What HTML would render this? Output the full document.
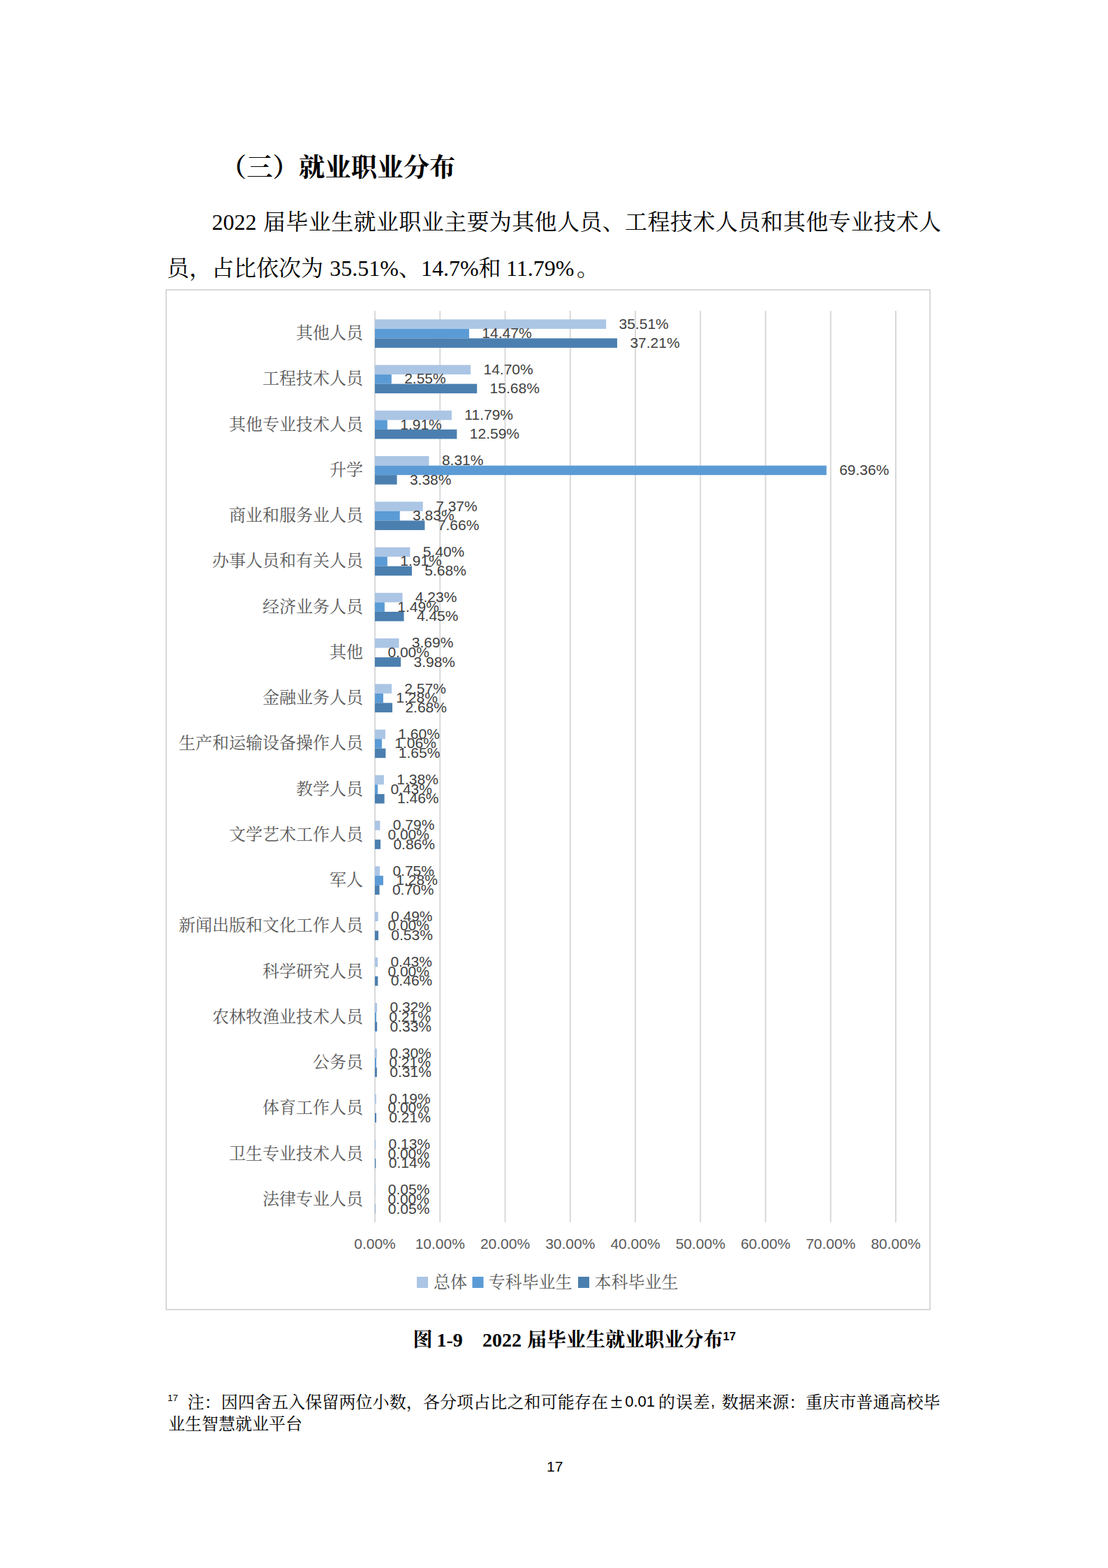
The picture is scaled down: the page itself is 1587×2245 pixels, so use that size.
<!DOCTYPE html>
<html lang="zh-CN">
<head>
<meta charset="utf-8">
<title>（三）就业职业分布</title>
<style>
html,body{margin:0;padding:0;background:#fff;}
body{width:1587px;height:2245px;position:relative;overflow:hidden;color:#000;font-family:"Liberation Serif","Noto Serif CJK SC",serif;}
.chart{position:absolute;left:0;top:0;}
.ln{position:absolute;left:0;margin:0;padding:0;line-height:1;white-space:nowrap;font-weight:normal;}
.ln.b{font-weight:bold;}
.ln span{position:absolute;top:0;line-height:1;white-space:pre;}
.ln span.c{display:block;white-space:nowrap;text-align:justify;text-align-last:justify;}
</style>
</head>
<body>
<svg class="chart" width="1587" height="2245" viewBox="0 0 1587 2245">
<rect x="238" y="415" width="1094" height="1460" fill="#fff" stroke="#D9D9D9" stroke-width="2"/>
<g stroke="#D9D9D9" stroke-width="2">
<line x1="537" y1="445" x2="537" y2="1750"/>
<line x1="630.25" y1="445" x2="630.25" y2="1750"/>
<line x1="723.5" y1="445" x2="723.5" y2="1750"/>
<line x1="816.75" y1="445" x2="816.75" y2="1750"/>
<line x1="910" y1="445" x2="910" y2="1750"/>
<line x1="1003.25" y1="445" x2="1003.25" y2="1750"/>
<line x1="1096.5" y1="445" x2="1096.5" y2="1750"/>
<line x1="1189.75" y1="445" x2="1189.75" y2="1750"/>
<line x1="1283" y1="445" x2="1283" y2="1750"/>
</g>
<g fill="#ABC5E5">
<rect x="537" y="457.32" width="331.13" height="13.54"/>
<rect x="537" y="522.57" width="137.08" height="13.54"/>
<rect x="537" y="587.82" width="109.94" height="13.54"/>
<rect x="537" y="653.07" width="77.49" height="13.54"/>
<rect x="537" y="718.32" width="68.73" height="13.54"/>
<rect x="537" y="783.57" width="50.36" height="13.54"/>
<rect x="537" y="848.82" width="39.44" height="13.54"/>
<rect x="537" y="914.07" width="34.41" height="13.54"/>
<rect x="537" y="979.32" width="23.97" height="13.54"/>
<rect x="537" y="1044.57" width="14.92" height="13.54"/>
<rect x="537" y="1109.82" width="12.87" height="13.54"/>
<rect x="537" y="1175.07" width="7.37" height="13.54"/>
<rect x="537" y="1240.32" width="6.99" height="13.54"/>
<rect x="537" y="1305.57" width="4.57" height="13.54"/>
<rect x="537" y="1370.82" width="4.01" height="13.54"/>
<rect x="537" y="1436.07" width="2.98" height="13.54"/>
<rect x="537" y="1501.32" width="2.8" height="13.54"/>
<rect x="537" y="1566.57" width="1.77" height="13.54"/>
<rect x="537" y="1631.82" width="1.21" height="13.54"/>
<rect x="537" y="1697.07" width="0.47" height="13.54"/>
</g>
<g font-family="'Liberation Sans', sans-serif" font-size="21" fill="#404040">
<text x="886.53" y="470.69">35.51%</text>
<text x="692.48" y="535.94">14.70%</text>
<text x="665.34" y="601.19">11.79%</text>
<text x="632.89" y="666.44">8.31%</text>
<text x="624.13" y="731.69">7.37%</text>
<text x="605.75" y="796.94">5.40%</text>
<text x="594.84" y="862.19">4.23%</text>
<text x="589.81" y="927.44">3.69%</text>
<text x="579.37" y="992.69">2.57%</text>
<text x="570.32" y="1057.94">1.60%</text>
<text x="568.27" y="1123.19">1.38%</text>
<text x="562.77" y="1188.44">0.79%</text>
<text x="562.39" y="1253.69">0.75%</text>
<text x="559.97" y="1318.94">0.49%</text>
<text x="559.41" y="1384.19">0.43%</text>
<text x="558.38" y="1449.44">0.32%</text>
<text x="558.2" y="1514.69">0.30%</text>
<text x="557.17" y="1579.94">0.19%</text>
<text x="556.61" y="1645.19">0.13%</text>
<text x="555.87" y="1710.44">0.05%</text>
</g>
<g fill="#5B9BD5">
<rect x="537" y="470.86" width="134.93" height="13.54"/>
<rect x="537" y="536.11" width="23.78" height="13.54"/>
<rect x="537" y="601.36" width="17.81" height="13.54"/>
<rect x="537" y="666.61" width="646.78" height="13.54"/>
<rect x="537" y="731.86" width="35.71" height="13.54"/>
<rect x="537" y="797.11" width="17.81" height="13.54"/>
<rect x="537" y="862.36" width="13.89" height="13.54"/>
<rect x="537" y="992.86" width="11.94" height="13.54"/>
<rect x="537" y="1058.11" width="9.88" height="13.54"/>
<rect x="537" y="1123.36" width="4.01" height="13.54"/>
<rect x="537" y="1253.86" width="11.94" height="13.54"/>
<rect x="537" y="1449.61" width="1.96" height="13.54"/>
<rect x="537" y="1514.86" width="1.96" height="13.54"/>
</g>
<g font-family="'Liberation Sans', sans-serif" font-size="21" fill="#404040">
<text x="690.33" y="484.22">14.47%</text>
<text x="579.18" y="549.48">2.55%</text>
<text x="573.21" y="614.73">1.91%</text>
<text x="1202.18" y="679.98">69.36%</text>
<text x="591.11" y="745.23">3.83%</text>
<text x="573.21" y="810.48">1.91%</text>
<text x="569.29" y="875.73">1.49%</text>
<text x="555.4" y="940.98">0.00%</text>
<text x="567.34" y="1006.23">1.28%</text>
<text x="565.28" y="1071.48">1.06%</text>
<text x="559.41" y="1136.73">0.43%</text>
<text x="555.4" y="1201.98">0.00%</text>
<text x="567.34" y="1267.23">1.28%</text>
<text x="555.4" y="1332.48">0.00%</text>
<text x="555.4" y="1397.73">0.00%</text>
<text x="557.36" y="1462.98">0.21%</text>
<text x="557.36" y="1528.23">0.21%</text>
<text x="555.4" y="1593.48">0.00%</text>
<text x="555.4" y="1658.73">0.00%</text>
<text x="555.4" y="1723.98">0.00%</text>
</g>
<g fill="#4B7FAF">
<rect x="537" y="484.39" width="346.98" height="13.54"/>
<rect x="537" y="549.64" width="146.22" height="13.54"/>
<rect x="537" y="614.89" width="117.4" height="13.54"/>
<rect x="537" y="680.14" width="31.52" height="13.54"/>
<rect x="537" y="745.39" width="71.43" height="13.54"/>
<rect x="537" y="810.64" width="52.97" height="13.54"/>
<rect x="537" y="875.89" width="41.5" height="13.54"/>
<rect x="537" y="941.14" width="37.11" height="13.54"/>
<rect x="537" y="1006.39" width="24.99" height="13.54"/>
<rect x="537" y="1071.64" width="15.39" height="13.54"/>
<rect x="537" y="1136.89" width="13.61" height="13.54"/>
<rect x="537" y="1202.14" width="8.02" height="13.54"/>
<rect x="537" y="1267.39" width="6.53" height="13.54"/>
<rect x="537" y="1332.64" width="4.94" height="13.54"/>
<rect x="537" y="1397.89" width="4.29" height="13.54"/>
<rect x="537" y="1463.14" width="3.08" height="13.54"/>
<rect x="537" y="1528.39" width="2.89" height="13.54"/>
<rect x="537" y="1593.64" width="1.96" height="13.54"/>
<rect x="537" y="1658.89" width="1.31" height="13.54"/>
<rect x="537" y="1724.14" width="0.47" height="13.54"/>
</g>
<g font-family="'Liberation Sans', sans-serif" font-size="21" fill="#404040">
<text x="902.38" y="497.76">37.21%</text>
<text x="701.62" y="563.01">15.68%</text>
<text x="672.8" y="628.26">12.59%</text>
<text x="586.92" y="693.51">3.38%</text>
<text x="626.83" y="758.76">7.66%</text>
<text x="608.37" y="824.01">5.68%</text>
<text x="596.9" y="889.26">4.45%</text>
<text x="592.51" y="954.51">3.98%</text>
<text x="580.39" y="1019.76">2.68%</text>
<text x="570.79" y="1085.01">1.65%</text>
<text x="569.01" y="1150.26">1.46%</text>
<text x="563.42" y="1215.51">0.86%</text>
<text x="561.93" y="1280.76">0.70%</text>
<text x="560.34" y="1346.01">0.53%</text>
<text x="559.69" y="1411.26">0.46%</text>
<text x="558.48" y="1476.51">0.33%</text>
<text x="558.29" y="1541.76">0.31%</text>
<text x="557.36" y="1607.01">0.21%</text>
<text x="556.71" y="1672.26">0.14%</text>
<text x="555.87" y="1737.51">0.05%</text>
</g>
<g font-family="'Liberation Sans', sans-serif" font-size="21" fill="#595959" text-anchor="middle">
<text x="537" y="1788">0.00%</text>
<text x="630.25" y="1788">10.00%</text>
<text x="723.5" y="1788">20.00%</text>
<text x="816.75" y="1788">30.00%</text>
<text x="910" y="1788">40.00%</text>
<text x="1003.25" y="1788">50.00%</text>
<text x="1096.5" y="1788">60.00%</text>
<text x="1189.75" y="1788">70.00%</text>
<text x="1283" y="1788">80.00%</text>
</g>
<rect x="597" y="1828" width="16" height="16" fill="#ABC5E5"/>
<rect x="676.5" y="1828" width="16" height="16" fill="#5B9BD5"/>
<rect x="828" y="1828" width="16" height="16" fill="#4B7FAF"/>
<g font-family="'Liberation Serif', 'Noto Serif CJK SC', serif" font-size="24" text-anchor="end" fill="#595959">
<text x="520" y="485.23" textLength="96" lengthAdjust="spacing">其他人员</text>
<text x="520" y="550.48" textLength="144" lengthAdjust="spacing">工程技术人员</text>
<text x="520" y="615.73" textLength="192" lengthAdjust="spacing">其他专业技术人员</text>
<text x="520" y="680.98" textLength="48" lengthAdjust="spacing">升学</text>
<text x="520" y="746.23" textLength="192" lengthAdjust="spacing">商业和服务业人员</text>
<text x="520" y="811.48" textLength="216" lengthAdjust="spacing">办事人员和有关人员</text>
<text x="520" y="876.73" textLength="144" lengthAdjust="spacing">经济业务人员</text>
<text x="520" y="941.98" textLength="48" lengthAdjust="spacing">其他</text>
<text x="520" y="1007.23" textLength="144" lengthAdjust="spacing">金融业务人员</text>
<text x="520" y="1072.47" textLength="264" lengthAdjust="spacing">生产和运输设备操作人员</text>
<text x="520" y="1137.72" textLength="96" lengthAdjust="spacing">教学人员</text>
<text x="520" y="1202.97" textLength="192" lengthAdjust="spacing">文学艺术工作人员</text>
<text x="520" y="1268.22" textLength="48" lengthAdjust="spacing">军人</text>
<text x="520" y="1333.47" textLength="264" lengthAdjust="spacing">新闻出版和文化工作人员</text>
<text x="520" y="1398.72" textLength="144" lengthAdjust="spacing">科学研究人员</text>
<text x="520" y="1463.97" textLength="216" lengthAdjust="spacing">农林牧渔业技术人员</text>
<text x="520" y="1529.22" textLength="72" lengthAdjust="spacing">公务员</text>
<text x="520" y="1594.47" textLength="144" lengthAdjust="spacing">体育工作人员</text>
<text x="520" y="1659.72" textLength="192" lengthAdjust="spacing">卫生专业技术人员</text>
<text x="520" y="1724.97" textLength="144" lengthAdjust="spacing">法律专业人员</text>
<text x="621" y="1844.2" text-anchor="start" textLength="48" lengthAdjust="spacing">总体</text>
<text x="699.5" y="1844.2" text-anchor="start" textLength="120" lengthAdjust="spacing">专科毕业生</text>
<text x="851.5" y="1844.2" text-anchor="start" textLength="120" lengthAdjust="spacing">本科毕业生</text>
</g>
</svg>
<h2 class="ln b" style="top:222.44px;font-size:37.33px;"><span class="c" style="left:315.8px;width:336.6px;">（三）就业职业分布</span></h2>
<p class="ln " style="top:301.7px;font-size:32px;"><span style="left:303.5px;">2022 </span><span class="c" style="left:377px;width:971.1px;">届毕业生就业职业主要为其他人员、工程技术人员和其他专业技术人</span></p>
<p class="ln " style="top:367.7px;font-size:32px;"><span class="c" style="left:239px;width:224px;">员，占比依次为</span><span style="left:464.2px;"> 35.51%</span><span class="c" style="left:570.9px;width:32px;">、</span><span style="left:602.9px;">14.7%</span><span class="c" style="left:685.6px;width:32px;">和</span><span style="left:716.9px;"> 11.79%</span><span class="c" style="left:826px;width:32px;">。</span></p>
<div class="ln b" style="top:1904.75px;font-size:28px;"><span class="c" style="left:591.5px;width:28px;">图</span><span style="left:618.5px;"> 1-9 </span><span style="left:691px;">2022 </span><span class="c" style="left:755px;width:280.5px;">届毕业生就业职业分布</span><span style="left:1035.5px;font-family:'Liberation Sans',sans-serif;font-size:16.5px;top:0.5px;">17</span></div>
<div class="ln " style="top:1995.9px;font-size:24px;"><span style="left:240px;font-family:'Liberation Sans',sans-serif;font-size:13.5px;top:-0.5px;">17</span><span class="c" style="left:268.5px;width:602.4px;">注：因四舍五入保留两位小数，各分项占比之和可能存在</span><span style="left:874.2px;font-size:32px;top:-6.5px;">±</span><span style="left:895.2px;font-family:'Liberation Sans',sans-serif;font-size:22px;top:0.5px;">0.01 </span><span class="c" style="left:943px;width:73.8px;">的误差</span><span style="left:1018px;font-family:'Liberation Sans',sans-serif;font-size:22px;top:0.5px;">, </span><span class="c" style="left:1033.8px;width:312.65px;">数据来源：重庆市普通高校毕</span></div>
<div class="ln " style="top:2026.6px;font-size:24px;"><span class="c" style="left:241px;width:192px;">业生智慧就业平台</span></div>
<div class="ln" style="top:2088.5px;font-size:21px;font-family:'Liberation Sans',sans-serif;"><span style="left:783px;">17</span></div>
</body>
</html>
